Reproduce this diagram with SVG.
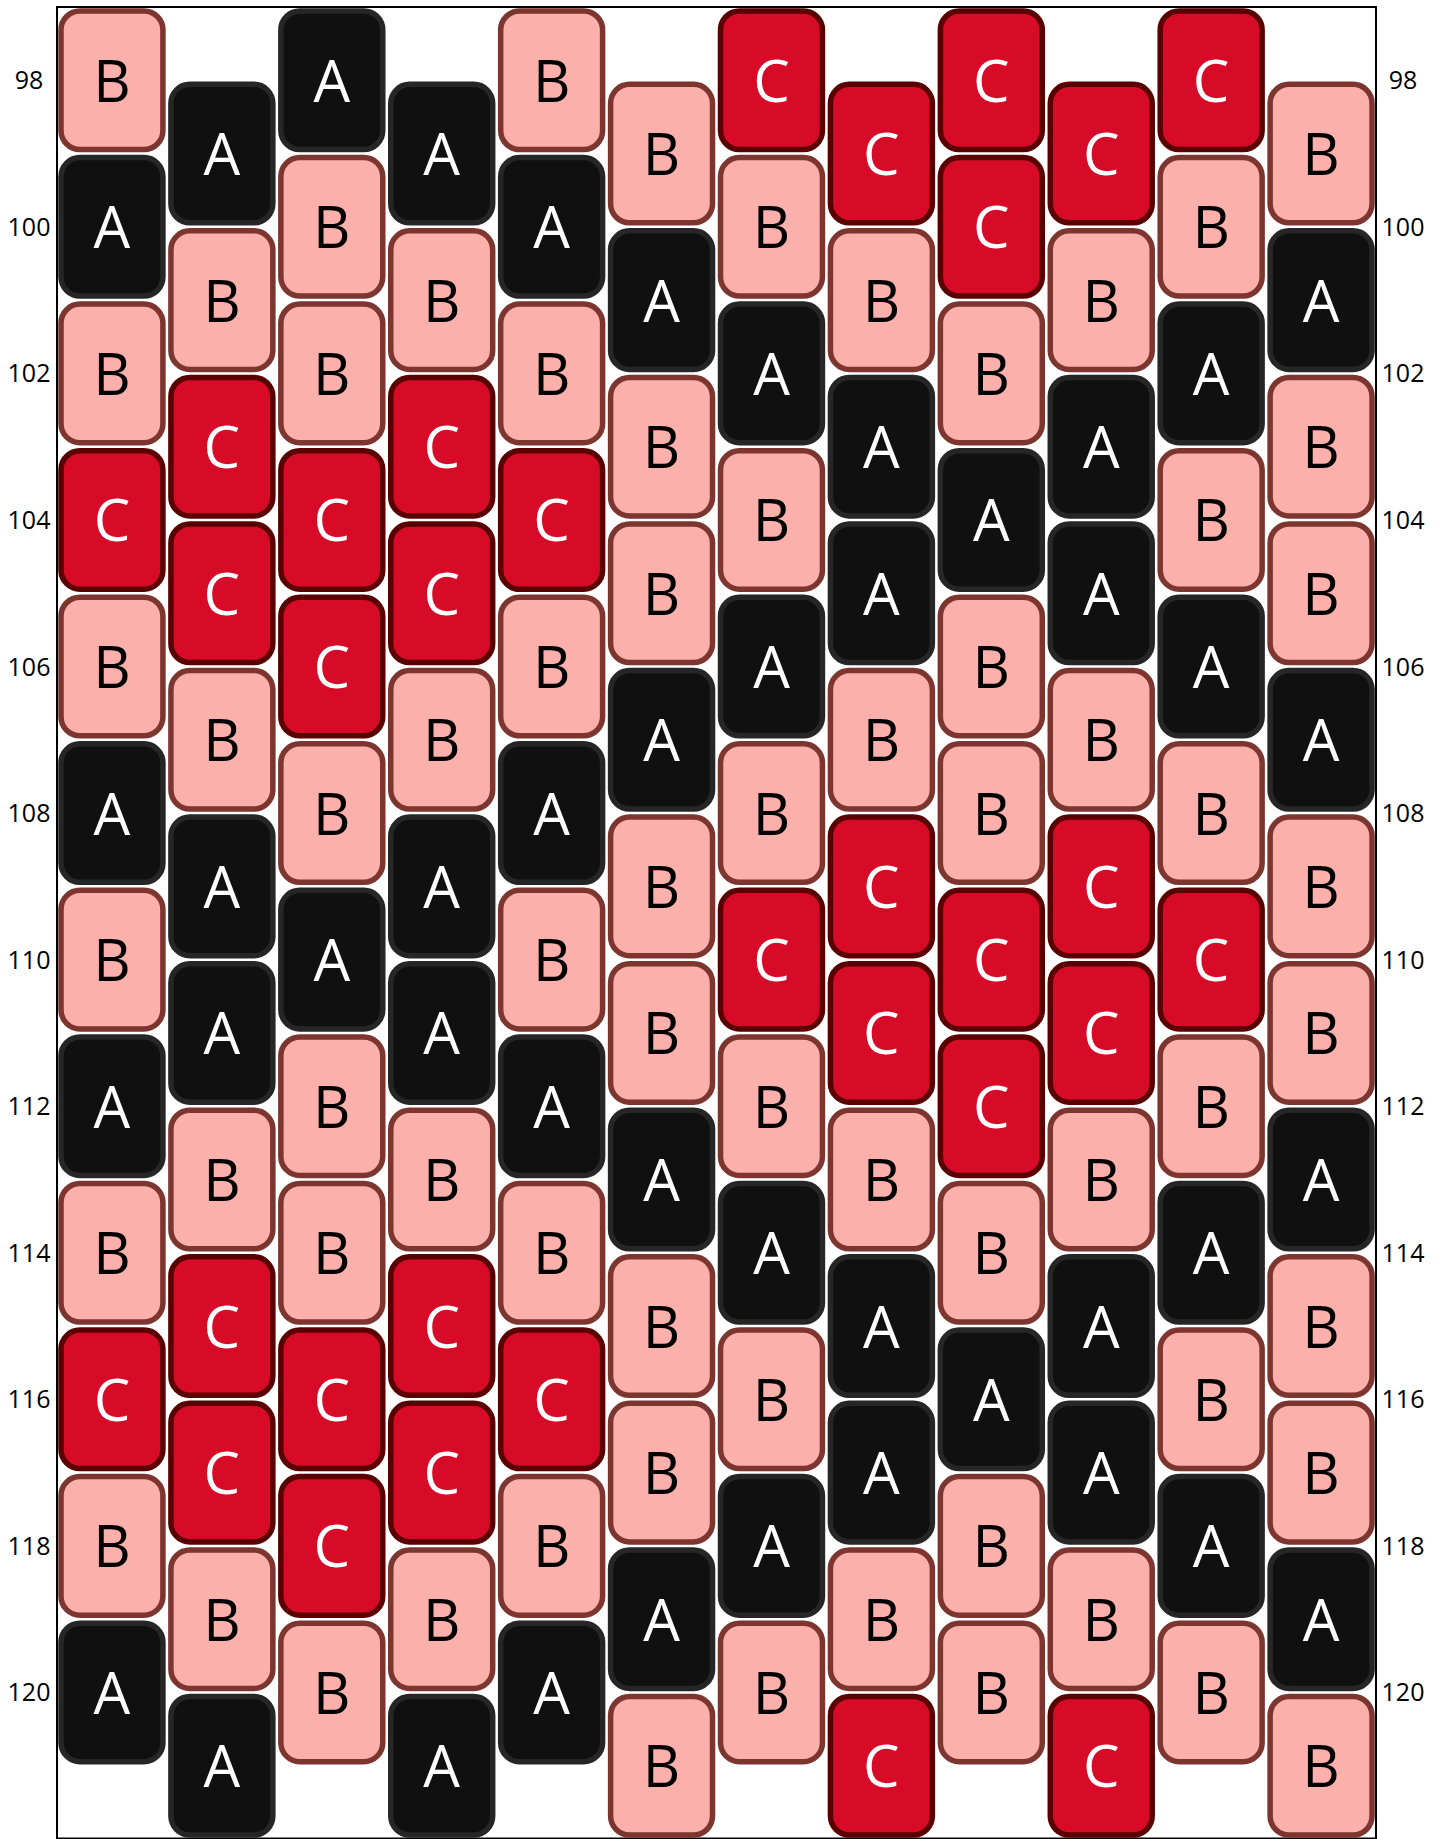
<svg xmlns="http://www.w3.org/2000/svg" width="1445" height="1839" viewBox="0 0 1445 1839">
<style>
.bead rect{stroke-width:5.5}
.bead text{font-family:"Open Sans","Noto Sans","DejaVu Sans",sans-serif;font-size:58px;text-anchor:middle}
.A rect{fill:#101010;stroke:#262626}
.A text{fill:#ffffff}
.B rect{fill:#fbb0ab;stroke:#7d3530}
.B text{fill:#000000}
.C rect{fill:#d70b27;stroke:#5a0000}
.C text{fill:#ffffff}
.lbl{font-family:"Open Sans","Noto Sans","DejaVu Sans",sans-serif;font-size:25px;text-anchor:middle;fill:#000}
</style>
<rect id="frame" x="57" y="7" width="1319" height="1831.5" fill="#ffffff" stroke="#000000" stroke-width="2"/>
<g id="connectors"></g>
<g id="col0">
<g id="bead-c0-r98" class="bead B" transform="translate(61,11)"><rect width="101.92" height="138.56" rx="19"/><text x="50.96" y="90.78">B</text></g>
<g id="bead-c0-r100" class="bead A" transform="translate(61,157.56)"><rect width="101.92" height="138.56" rx="19"/><text x="50.96" y="90.78">A</text></g>
<g id="bead-c0-r102" class="bead B" transform="translate(61,304.12)"><rect width="101.92" height="138.56" rx="19"/><text x="50.96" y="90.78">B</text></g>
<g id="bead-c0-r104" class="bead C" transform="translate(61,450.68)"><rect width="101.92" height="138.56" rx="19"/><text x="50.96" y="90.78">C</text></g>
<g id="bead-c0-r106" class="bead B" transform="translate(61,597.24)"><rect width="101.92" height="138.56" rx="19"/><text x="50.96" y="90.78">B</text></g>
<g id="bead-c0-r108" class="bead A" transform="translate(61,743.8)"><rect width="101.92" height="138.56" rx="19"/><text x="50.96" y="90.78">A</text></g>
<g id="bead-c0-r110" class="bead B" transform="translate(61,890.36)"><rect width="101.92" height="138.56" rx="19"/><text x="50.96" y="90.78">B</text></g>
<g id="bead-c0-r112" class="bead A" transform="translate(61,1036.92)"><rect width="101.92" height="138.56" rx="19"/><text x="50.96" y="90.78">A</text></g>
<g id="bead-c0-r114" class="bead B" transform="translate(61,1183.48)"><rect width="101.92" height="138.56" rx="19"/><text x="50.96" y="90.78">B</text></g>
<g id="bead-c0-r116" class="bead C" transform="translate(61,1330.04)"><rect width="101.92" height="138.56" rx="19"/><text x="50.96" y="90.78">C</text></g>
<g id="bead-c0-r118" class="bead B" transform="translate(61,1476.6)"><rect width="101.92" height="138.56" rx="19"/><text x="50.96" y="90.78">B</text></g>
<g id="bead-c0-r120" class="bead A" transform="translate(61,1623.16)"><rect width="101.92" height="138.56" rx="19"/><text x="50.96" y="90.78">A</text></g>
</g>
<g id="col1">
<g id="bead-c1-r99" class="bead A" transform="translate(170.92,84.28)"><rect width="101.92" height="138.56" rx="19"/><text x="50.96" y="90.78">A</text></g>
<g id="bead-c1-r101" class="bead B" transform="translate(170.92,230.84)"><rect width="101.92" height="138.56" rx="19"/><text x="50.96" y="90.78">B</text></g>
<g id="bead-c1-r103" class="bead C" transform="translate(170.92,377.4)"><rect width="101.92" height="138.56" rx="19"/><text x="50.96" y="90.78">C</text></g>
<g id="bead-c1-r105" class="bead C" transform="translate(170.92,523.96)"><rect width="101.92" height="138.56" rx="19"/><text x="50.96" y="90.78">C</text></g>
<g id="bead-c1-r107" class="bead B" transform="translate(170.92,670.52)"><rect width="101.92" height="138.56" rx="19"/><text x="50.96" y="90.78">B</text></g>
<g id="bead-c1-r109" class="bead A" transform="translate(170.92,817.08)"><rect width="101.92" height="138.56" rx="19"/><text x="50.96" y="90.78">A</text></g>
<g id="bead-c1-r111" class="bead A" transform="translate(170.92,963.64)"><rect width="101.92" height="138.56" rx="19"/><text x="50.96" y="90.78">A</text></g>
<g id="bead-c1-r113" class="bead B" transform="translate(170.92,1110.2)"><rect width="101.92" height="138.56" rx="19"/><text x="50.96" y="90.78">B</text></g>
<g id="bead-c1-r115" class="bead C" transform="translate(170.92,1256.76)"><rect width="101.92" height="138.56" rx="19"/><text x="50.96" y="90.78">C</text></g>
<g id="bead-c1-r117" class="bead C" transform="translate(170.92,1403.32)"><rect width="101.92" height="138.56" rx="19"/><text x="50.96" y="90.78">C</text></g>
<g id="bead-c1-r119" class="bead B" transform="translate(170.92,1549.88)"><rect width="101.92" height="138.56" rx="19"/><text x="50.96" y="90.78">B</text></g>
<g id="bead-c1-r121" class="bead A" transform="translate(170.92,1696.44)"><rect width="101.92" height="138.56" rx="19"/><text x="50.96" y="90.78">A</text></g>
</g>
<g id="col2">
<g id="bead-c2-r98" class="bead A" transform="translate(280.84,11)"><rect width="101.92" height="138.56" rx="19"/><text x="50.96" y="90.78">A</text></g>
<g id="bead-c2-r100" class="bead B" transform="translate(280.84,157.56)"><rect width="101.92" height="138.56" rx="19"/><text x="50.96" y="90.78">B</text></g>
<g id="bead-c2-r102" class="bead B" transform="translate(280.84,304.12)"><rect width="101.92" height="138.56" rx="19"/><text x="50.96" y="90.78">B</text></g>
<g id="bead-c2-r104" class="bead C" transform="translate(280.84,450.68)"><rect width="101.92" height="138.56" rx="19"/><text x="50.96" y="90.78">C</text></g>
<g id="bead-c2-r106" class="bead C" transform="translate(280.84,597.24)"><rect width="101.92" height="138.56" rx="19"/><text x="50.96" y="90.78">C</text></g>
<g id="bead-c2-r108" class="bead B" transform="translate(280.84,743.8)"><rect width="101.92" height="138.56" rx="19"/><text x="50.96" y="90.78">B</text></g>
<g id="bead-c2-r110" class="bead A" transform="translate(280.84,890.36)"><rect width="101.92" height="138.56" rx="19"/><text x="50.96" y="90.78">A</text></g>
<g id="bead-c2-r112" class="bead B" transform="translate(280.84,1036.92)"><rect width="101.92" height="138.56" rx="19"/><text x="50.96" y="90.78">B</text></g>
<g id="bead-c2-r114" class="bead B" transform="translate(280.84,1183.48)"><rect width="101.92" height="138.56" rx="19"/><text x="50.96" y="90.78">B</text></g>
<g id="bead-c2-r116" class="bead C" transform="translate(280.84,1330.04)"><rect width="101.92" height="138.56" rx="19"/><text x="50.96" y="90.78">C</text></g>
<g id="bead-c2-r118" class="bead C" transform="translate(280.84,1476.6)"><rect width="101.92" height="138.56" rx="19"/><text x="50.96" y="90.78">C</text></g>
<g id="bead-c2-r120" class="bead B" transform="translate(280.84,1623.16)"><rect width="101.92" height="138.56" rx="19"/><text x="50.96" y="90.78">B</text></g>
</g>
<g id="col3">
<g id="bead-c3-r99" class="bead A" transform="translate(390.76,84.28)"><rect width="101.92" height="138.56" rx="19"/><text x="50.96" y="90.78">A</text></g>
<g id="bead-c3-r101" class="bead B" transform="translate(390.76,230.84)"><rect width="101.92" height="138.56" rx="19"/><text x="50.96" y="90.78">B</text></g>
<g id="bead-c3-r103" class="bead C" transform="translate(390.76,377.4)"><rect width="101.92" height="138.56" rx="19"/><text x="50.96" y="90.78">C</text></g>
<g id="bead-c3-r105" class="bead C" transform="translate(390.76,523.96)"><rect width="101.92" height="138.56" rx="19"/><text x="50.96" y="90.78">C</text></g>
<g id="bead-c3-r107" class="bead B" transform="translate(390.76,670.52)"><rect width="101.92" height="138.56" rx="19"/><text x="50.96" y="90.78">B</text></g>
<g id="bead-c3-r109" class="bead A" transform="translate(390.76,817.08)"><rect width="101.92" height="138.56" rx="19"/><text x="50.96" y="90.78">A</text></g>
<g id="bead-c3-r111" class="bead A" transform="translate(390.76,963.64)"><rect width="101.92" height="138.56" rx="19"/><text x="50.96" y="90.78">A</text></g>
<g id="bead-c3-r113" class="bead B" transform="translate(390.76,1110.2)"><rect width="101.92" height="138.56" rx="19"/><text x="50.96" y="90.78">B</text></g>
<g id="bead-c3-r115" class="bead C" transform="translate(390.76,1256.76)"><rect width="101.92" height="138.56" rx="19"/><text x="50.96" y="90.78">C</text></g>
<g id="bead-c3-r117" class="bead C" transform="translate(390.76,1403.32)"><rect width="101.92" height="138.56" rx="19"/><text x="50.96" y="90.78">C</text></g>
<g id="bead-c3-r119" class="bead B" transform="translate(390.76,1549.88)"><rect width="101.92" height="138.56" rx="19"/><text x="50.96" y="90.78">B</text></g>
<g id="bead-c3-r121" class="bead A" transform="translate(390.76,1696.44)"><rect width="101.92" height="138.56" rx="19"/><text x="50.96" y="90.78">A</text></g>
</g>
<g id="col4">
<g id="bead-c4-r98" class="bead B" transform="translate(500.68,11)"><rect width="101.92" height="138.56" rx="19"/><text x="50.96" y="90.78">B</text></g>
<g id="bead-c4-r100" class="bead A" transform="translate(500.68,157.56)"><rect width="101.92" height="138.56" rx="19"/><text x="50.96" y="90.78">A</text></g>
<g id="bead-c4-r102" class="bead B" transform="translate(500.68,304.12)"><rect width="101.92" height="138.56" rx="19"/><text x="50.96" y="90.78">B</text></g>
<g id="bead-c4-r104" class="bead C" transform="translate(500.68,450.68)"><rect width="101.92" height="138.56" rx="19"/><text x="50.96" y="90.78">C</text></g>
<g id="bead-c4-r106" class="bead B" transform="translate(500.68,597.24)"><rect width="101.92" height="138.56" rx="19"/><text x="50.96" y="90.78">B</text></g>
<g id="bead-c4-r108" class="bead A" transform="translate(500.68,743.8)"><rect width="101.92" height="138.56" rx="19"/><text x="50.96" y="90.78">A</text></g>
<g id="bead-c4-r110" class="bead B" transform="translate(500.68,890.36)"><rect width="101.92" height="138.56" rx="19"/><text x="50.96" y="90.78">B</text></g>
<g id="bead-c4-r112" class="bead A" transform="translate(500.68,1036.92)"><rect width="101.92" height="138.56" rx="19"/><text x="50.96" y="90.78">A</text></g>
<g id="bead-c4-r114" class="bead B" transform="translate(500.68,1183.48)"><rect width="101.92" height="138.56" rx="19"/><text x="50.96" y="90.78">B</text></g>
<g id="bead-c4-r116" class="bead C" transform="translate(500.68,1330.04)"><rect width="101.92" height="138.56" rx="19"/><text x="50.96" y="90.78">C</text></g>
<g id="bead-c4-r118" class="bead B" transform="translate(500.68,1476.6)"><rect width="101.92" height="138.56" rx="19"/><text x="50.96" y="90.78">B</text></g>
<g id="bead-c4-r120" class="bead A" transform="translate(500.68,1623.16)"><rect width="101.92" height="138.56" rx="19"/><text x="50.96" y="90.78">A</text></g>
</g>
<g id="col5">
<g id="bead-c5-r99" class="bead B" transform="translate(610.6,84.28)"><rect width="101.92" height="138.56" rx="19"/><text x="50.96" y="90.78">B</text></g>
<g id="bead-c5-r101" class="bead A" transform="translate(610.6,230.84)"><rect width="101.92" height="138.56" rx="19"/><text x="50.96" y="90.78">A</text></g>
<g id="bead-c5-r103" class="bead B" transform="translate(610.6,377.4)"><rect width="101.92" height="138.56" rx="19"/><text x="50.96" y="90.78">B</text></g>
<g id="bead-c5-r105" class="bead B" transform="translate(610.6,523.96)"><rect width="101.92" height="138.56" rx="19"/><text x="50.96" y="90.78">B</text></g>
<g id="bead-c5-r107" class="bead A" transform="translate(610.6,670.52)"><rect width="101.92" height="138.56" rx="19"/><text x="50.96" y="90.78">A</text></g>
<g id="bead-c5-r109" class="bead B" transform="translate(610.6,817.08)"><rect width="101.92" height="138.56" rx="19"/><text x="50.96" y="90.78">B</text></g>
<g id="bead-c5-r111" class="bead B" transform="translate(610.6,963.64)"><rect width="101.92" height="138.56" rx="19"/><text x="50.96" y="90.78">B</text></g>
<g id="bead-c5-r113" class="bead A" transform="translate(610.6,1110.2)"><rect width="101.92" height="138.56" rx="19"/><text x="50.96" y="90.78">A</text></g>
<g id="bead-c5-r115" class="bead B" transform="translate(610.6,1256.76)"><rect width="101.92" height="138.56" rx="19"/><text x="50.96" y="90.78">B</text></g>
<g id="bead-c5-r117" class="bead B" transform="translate(610.6,1403.32)"><rect width="101.92" height="138.56" rx="19"/><text x="50.96" y="90.78">B</text></g>
<g id="bead-c5-r119" class="bead A" transform="translate(610.6,1549.88)"><rect width="101.92" height="138.56" rx="19"/><text x="50.96" y="90.78">A</text></g>
<g id="bead-c5-r121" class="bead B" transform="translate(610.6,1696.44)"><rect width="101.92" height="138.56" rx="19"/><text x="50.96" y="90.78">B</text></g>
</g>
<g id="col6">
<g id="bead-c6-r98" class="bead C" transform="translate(720.52,11)"><rect width="101.92" height="138.56" rx="19"/><text x="50.96" y="90.78">C</text></g>
<g id="bead-c6-r100" class="bead B" transform="translate(720.52,157.56)"><rect width="101.92" height="138.56" rx="19"/><text x="50.96" y="90.78">B</text></g>
<g id="bead-c6-r102" class="bead A" transform="translate(720.52,304.12)"><rect width="101.92" height="138.56" rx="19"/><text x="50.96" y="90.78">A</text></g>
<g id="bead-c6-r104" class="bead B" transform="translate(720.52,450.68)"><rect width="101.92" height="138.56" rx="19"/><text x="50.96" y="90.78">B</text></g>
<g id="bead-c6-r106" class="bead A" transform="translate(720.52,597.24)"><rect width="101.92" height="138.56" rx="19"/><text x="50.96" y="90.78">A</text></g>
<g id="bead-c6-r108" class="bead B" transform="translate(720.52,743.8)"><rect width="101.92" height="138.56" rx="19"/><text x="50.96" y="90.78">B</text></g>
<g id="bead-c6-r110" class="bead C" transform="translate(720.52,890.36)"><rect width="101.92" height="138.56" rx="19"/><text x="50.96" y="90.78">C</text></g>
<g id="bead-c6-r112" class="bead B" transform="translate(720.52,1036.92)"><rect width="101.92" height="138.56" rx="19"/><text x="50.96" y="90.78">B</text></g>
<g id="bead-c6-r114" class="bead A" transform="translate(720.52,1183.48)"><rect width="101.92" height="138.56" rx="19"/><text x="50.96" y="90.78">A</text></g>
<g id="bead-c6-r116" class="bead B" transform="translate(720.52,1330.04)"><rect width="101.92" height="138.56" rx="19"/><text x="50.96" y="90.78">B</text></g>
<g id="bead-c6-r118" class="bead A" transform="translate(720.52,1476.6)"><rect width="101.92" height="138.56" rx="19"/><text x="50.96" y="90.78">A</text></g>
<g id="bead-c6-r120" class="bead B" transform="translate(720.52,1623.16)"><rect width="101.92" height="138.56" rx="19"/><text x="50.96" y="90.78">B</text></g>
</g>
<g id="col7">
<g id="bead-c7-r99" class="bead C" transform="translate(830.44,84.28)"><rect width="101.92" height="138.56" rx="19"/><text x="50.96" y="90.78">C</text></g>
<g id="bead-c7-r101" class="bead B" transform="translate(830.44,230.84)"><rect width="101.92" height="138.56" rx="19"/><text x="50.96" y="90.78">B</text></g>
<g id="bead-c7-r103" class="bead A" transform="translate(830.44,377.4)"><rect width="101.92" height="138.56" rx="19"/><text x="50.96" y="90.78">A</text></g>
<g id="bead-c7-r105" class="bead A" transform="translate(830.44,523.96)"><rect width="101.92" height="138.56" rx="19"/><text x="50.96" y="90.78">A</text></g>
<g id="bead-c7-r107" class="bead B" transform="translate(830.44,670.52)"><rect width="101.92" height="138.56" rx="19"/><text x="50.96" y="90.78">B</text></g>
<g id="bead-c7-r109" class="bead C" transform="translate(830.44,817.08)"><rect width="101.92" height="138.56" rx="19"/><text x="50.96" y="90.78">C</text></g>
<g id="bead-c7-r111" class="bead C" transform="translate(830.44,963.64)"><rect width="101.92" height="138.56" rx="19"/><text x="50.96" y="90.78">C</text></g>
<g id="bead-c7-r113" class="bead B" transform="translate(830.44,1110.2)"><rect width="101.92" height="138.56" rx="19"/><text x="50.96" y="90.78">B</text></g>
<g id="bead-c7-r115" class="bead A" transform="translate(830.44,1256.76)"><rect width="101.92" height="138.56" rx="19"/><text x="50.96" y="90.78">A</text></g>
<g id="bead-c7-r117" class="bead A" transform="translate(830.44,1403.32)"><rect width="101.92" height="138.56" rx="19"/><text x="50.96" y="90.78">A</text></g>
<g id="bead-c7-r119" class="bead B" transform="translate(830.44,1549.88)"><rect width="101.92" height="138.56" rx="19"/><text x="50.96" y="90.78">B</text></g>
<g id="bead-c7-r121" class="bead C" transform="translate(830.44,1696.44)"><rect width="101.92" height="138.56" rx="19"/><text x="50.96" y="90.78">C</text></g>
</g>
<g id="col8">
<g id="bead-c8-r98" class="bead C" transform="translate(940.36,11)"><rect width="101.92" height="138.56" rx="19"/><text x="50.96" y="90.78">C</text></g>
<g id="bead-c8-r100" class="bead C" transform="translate(940.36,157.56)"><rect width="101.92" height="138.56" rx="19"/><text x="50.96" y="90.78">C</text></g>
<g id="bead-c8-r102" class="bead B" transform="translate(940.36,304.12)"><rect width="101.92" height="138.56" rx="19"/><text x="50.96" y="90.78">B</text></g>
<g id="bead-c8-r104" class="bead A" transform="translate(940.36,450.68)"><rect width="101.92" height="138.56" rx="19"/><text x="50.96" y="90.78">A</text></g>
<g id="bead-c8-r106" class="bead B" transform="translate(940.36,597.24)"><rect width="101.92" height="138.56" rx="19"/><text x="50.96" y="90.78">B</text></g>
<g id="bead-c8-r108" class="bead B" transform="translate(940.36,743.8)"><rect width="101.92" height="138.56" rx="19"/><text x="50.96" y="90.78">B</text></g>
<g id="bead-c8-r110" class="bead C" transform="translate(940.36,890.36)"><rect width="101.92" height="138.56" rx="19"/><text x="50.96" y="90.78">C</text></g>
<g id="bead-c8-r112" class="bead C" transform="translate(940.36,1036.92)"><rect width="101.92" height="138.56" rx="19"/><text x="50.96" y="90.78">C</text></g>
<g id="bead-c8-r114" class="bead B" transform="translate(940.36,1183.48)"><rect width="101.92" height="138.56" rx="19"/><text x="50.96" y="90.78">B</text></g>
<g id="bead-c8-r116" class="bead A" transform="translate(940.36,1330.04)"><rect width="101.92" height="138.56" rx="19"/><text x="50.96" y="90.78">A</text></g>
<g id="bead-c8-r118" class="bead B" transform="translate(940.36,1476.6)"><rect width="101.92" height="138.56" rx="19"/><text x="50.96" y="90.78">B</text></g>
<g id="bead-c8-r120" class="bead B" transform="translate(940.36,1623.16)"><rect width="101.92" height="138.56" rx="19"/><text x="50.96" y="90.78">B</text></g>
</g>
<g id="col9">
<g id="bead-c9-r99" class="bead C" transform="translate(1050.28,84.28)"><rect width="101.92" height="138.56" rx="19"/><text x="50.96" y="90.78">C</text></g>
<g id="bead-c9-r101" class="bead B" transform="translate(1050.28,230.84)"><rect width="101.92" height="138.56" rx="19"/><text x="50.96" y="90.78">B</text></g>
<g id="bead-c9-r103" class="bead A" transform="translate(1050.28,377.4)"><rect width="101.92" height="138.56" rx="19"/><text x="50.96" y="90.78">A</text></g>
<g id="bead-c9-r105" class="bead A" transform="translate(1050.28,523.96)"><rect width="101.92" height="138.56" rx="19"/><text x="50.96" y="90.78">A</text></g>
<g id="bead-c9-r107" class="bead B" transform="translate(1050.28,670.52)"><rect width="101.92" height="138.56" rx="19"/><text x="50.96" y="90.78">B</text></g>
<g id="bead-c9-r109" class="bead C" transform="translate(1050.28,817.08)"><rect width="101.92" height="138.56" rx="19"/><text x="50.96" y="90.78">C</text></g>
<g id="bead-c9-r111" class="bead C" transform="translate(1050.28,963.64)"><rect width="101.92" height="138.56" rx="19"/><text x="50.96" y="90.78">C</text></g>
<g id="bead-c9-r113" class="bead B" transform="translate(1050.28,1110.2)"><rect width="101.92" height="138.56" rx="19"/><text x="50.96" y="90.78">B</text></g>
<g id="bead-c9-r115" class="bead A" transform="translate(1050.28,1256.76)"><rect width="101.92" height="138.56" rx="19"/><text x="50.96" y="90.78">A</text></g>
<g id="bead-c9-r117" class="bead A" transform="translate(1050.28,1403.32)"><rect width="101.92" height="138.56" rx="19"/><text x="50.96" y="90.78">A</text></g>
<g id="bead-c9-r119" class="bead B" transform="translate(1050.28,1549.88)"><rect width="101.92" height="138.56" rx="19"/><text x="50.96" y="90.78">B</text></g>
<g id="bead-c9-r121" class="bead C" transform="translate(1050.28,1696.44)"><rect width="101.92" height="138.56" rx="19"/><text x="50.96" y="90.78">C</text></g>
</g>
<g id="col10">
<g id="bead-c10-r98" class="bead C" transform="translate(1160.2,11)"><rect width="101.92" height="138.56" rx="19"/><text x="50.96" y="90.78">C</text></g>
<g id="bead-c10-r100" class="bead B" transform="translate(1160.2,157.56)"><rect width="101.92" height="138.56" rx="19"/><text x="50.96" y="90.78">B</text></g>
<g id="bead-c10-r102" class="bead A" transform="translate(1160.2,304.12)"><rect width="101.92" height="138.56" rx="19"/><text x="50.96" y="90.78">A</text></g>
<g id="bead-c10-r104" class="bead B" transform="translate(1160.2,450.68)"><rect width="101.92" height="138.56" rx="19"/><text x="50.96" y="90.78">B</text></g>
<g id="bead-c10-r106" class="bead A" transform="translate(1160.2,597.24)"><rect width="101.92" height="138.56" rx="19"/><text x="50.96" y="90.78">A</text></g>
<g id="bead-c10-r108" class="bead B" transform="translate(1160.2,743.8)"><rect width="101.92" height="138.56" rx="19"/><text x="50.96" y="90.78">B</text></g>
<g id="bead-c10-r110" class="bead C" transform="translate(1160.2,890.36)"><rect width="101.92" height="138.56" rx="19"/><text x="50.96" y="90.78">C</text></g>
<g id="bead-c10-r112" class="bead B" transform="translate(1160.2,1036.92)"><rect width="101.92" height="138.56" rx="19"/><text x="50.96" y="90.78">B</text></g>
<g id="bead-c10-r114" class="bead A" transform="translate(1160.2,1183.48)"><rect width="101.92" height="138.56" rx="19"/><text x="50.96" y="90.78">A</text></g>
<g id="bead-c10-r116" class="bead B" transform="translate(1160.2,1330.04)"><rect width="101.92" height="138.56" rx="19"/><text x="50.96" y="90.78">B</text></g>
<g id="bead-c10-r118" class="bead A" transform="translate(1160.2,1476.6)"><rect width="101.92" height="138.56" rx="19"/><text x="50.96" y="90.78">A</text></g>
<g id="bead-c10-r120" class="bead B" transform="translate(1160.2,1623.16)"><rect width="101.92" height="138.56" rx="19"/><text x="50.96" y="90.78">B</text></g>
</g>
<g id="col11">
<g id="bead-c11-r99" class="bead B" transform="translate(1270.12,84.28)"><rect width="101.92" height="138.56" rx="19"/><text x="50.96" y="90.78">B</text></g>
<g id="bead-c11-r101" class="bead A" transform="translate(1270.12,230.84)"><rect width="101.92" height="138.56" rx="19"/><text x="50.96" y="90.78">A</text></g>
<g id="bead-c11-r103" class="bead B" transform="translate(1270.12,377.4)"><rect width="101.92" height="138.56" rx="19"/><text x="50.96" y="90.78">B</text></g>
<g id="bead-c11-r105" class="bead B" transform="translate(1270.12,523.96)"><rect width="101.92" height="138.56" rx="19"/><text x="50.96" y="90.78">B</text></g>
<g id="bead-c11-r107" class="bead A" transform="translate(1270.12,670.52)"><rect width="101.92" height="138.56" rx="19"/><text x="50.96" y="90.78">A</text></g>
<g id="bead-c11-r109" class="bead B" transform="translate(1270.12,817.08)"><rect width="101.92" height="138.56" rx="19"/><text x="50.96" y="90.78">B</text></g>
<g id="bead-c11-r111" class="bead B" transform="translate(1270.12,963.64)"><rect width="101.92" height="138.56" rx="19"/><text x="50.96" y="90.78">B</text></g>
<g id="bead-c11-r113" class="bead A" transform="translate(1270.12,1110.2)"><rect width="101.92" height="138.56" rx="19"/><text x="50.96" y="90.78">A</text></g>
<g id="bead-c11-r115" class="bead B" transform="translate(1270.12,1256.76)"><rect width="101.92" height="138.56" rx="19"/><text x="50.96" y="90.78">B</text></g>
<g id="bead-c11-r117" class="bead B" transform="translate(1270.12,1403.32)"><rect width="101.92" height="138.56" rx="19"/><text x="50.96" y="90.78">B</text></g>
<g id="bead-c11-r119" class="bead A" transform="translate(1270.12,1549.88)"><rect width="101.92" height="138.56" rx="19"/><text x="50.96" y="90.78">A</text></g>
<g id="bead-c11-r121" class="bead B" transform="translate(1270.12,1696.44)"><rect width="101.92" height="138.56" rx="19"/><text x="50.96" y="90.78">B</text></g>
</g>
<g id="row-labels-left">
<text class="lbl" x="29" y="89.28">98</text>
<text class="lbl" x="29" y="235.84">100</text>
<text class="lbl" x="29" y="382.4">102</text>
<text class="lbl" x="29" y="528.96">104</text>
<text class="lbl" x="29" y="675.52">106</text>
<text class="lbl" x="29" y="822.08">108</text>
<text class="lbl" x="29" y="968.64">110</text>
<text class="lbl" x="29" y="1115.2">112</text>
<text class="lbl" x="29" y="1261.76">114</text>
<text class="lbl" x="29" y="1408.32">116</text>
<text class="lbl" x="29" y="1554.88">118</text>
<text class="lbl" x="29" y="1701.44">120</text>
</g>
<g id="row-labels-right">
<text class="lbl" x="1403" y="89.28">98</text>
<text class="lbl" x="1403" y="235.84">100</text>
<text class="lbl" x="1403" y="382.4">102</text>
<text class="lbl" x="1403" y="528.96">104</text>
<text class="lbl" x="1403" y="675.52">106</text>
<text class="lbl" x="1403" y="822.08">108</text>
<text class="lbl" x="1403" y="968.64">110</text>
<text class="lbl" x="1403" y="1115.2">112</text>
<text class="lbl" x="1403" y="1261.76">114</text>
<text class="lbl" x="1403" y="1408.32">116</text>
<text class="lbl" x="1403" y="1554.88">118</text>
<text class="lbl" x="1403" y="1701.44">120</text>
</g>
</svg>
